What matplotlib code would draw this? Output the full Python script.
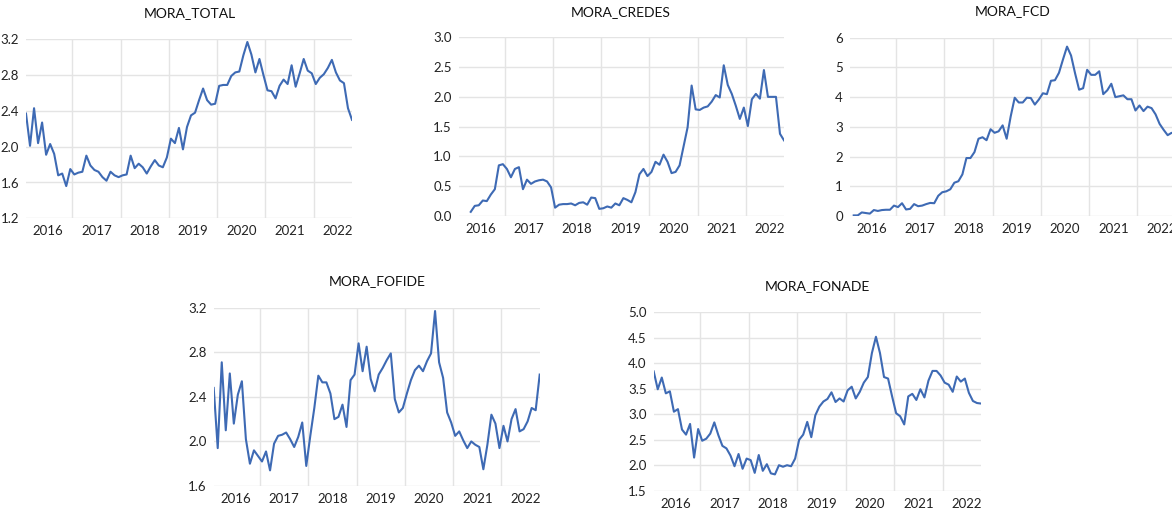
import matplotlib
matplotlib.use("Agg")
import matplotlib.pyplot as plt
import numpy as np

# monthly data, first month = Jan 2016 (index 0), last = Oct 2022 (index 81)
years = ["2016", "2017", "2018", "2019", "2020", "2021", "2022"]

mora_total = [
    2.37, 2.01, 2.43, 2.04, 2.27, 1.91, 2.03, 1.92, 1.68, 1.70, 1.56, 1.75,
    1.69, 1.71, 1.72, 1.90, 1.79, 1.74, 1.72, 1.66, 1.62, 1.72, 1.68, 1.66,
    1.68, 1.69, 1.90, 1.76, 1.81, 1.77, 1.70, 1.78, 1.85, 1.79, 1.77, 1.88,
    2.09, 2.04, 2.21, 1.97, 2.22, 2.35, 2.38, 2.52, 2.65, 2.52, 2.47, 2.48,
    2.68, 2.69, 2.69, 2.79, 2.83, 2.84, 3.02, 3.17, 3.03, 2.83, 2.98, 2.80,
    2.63, 2.62, 2.54, 2.68, 2.75, 2.70, 2.91, 2.67, 2.82, 2.98, 2.85, 2.82,
    2.70, 2.77, 2.81, 2.88, 2.97, 2.83, 2.74, 2.71, 2.43, 2.30,
]

credes_start = 3  # Apr 2016
mora_credes = [
    0.07, 0.17, 0.18, 0.26, 0.25, 0.36, 0.45, 0.85, 0.87, 0.79, 0.65, 0.79,
    0.82, 0.45, 0.61, 0.54, 0.58, 0.60, 0.61, 0.58, 0.48, 0.14, 0.19, 0.20,
    0.20, 0.21, 0.18, 0.22, 0.23, 0.19, 0.31, 0.30, 0.12, 0.13, 0.16, 0.14,
    0.21, 0.18, 0.30, 0.27, 0.23, 0.40, 0.70, 0.79, 0.67, 0.74, 0.91, 0.86,
    1.03, 0.91, 0.72, 0.74, 0.85, 1.17, 1.49, 2.19, 1.79, 1.78, 1.82, 1.84,
    1.92, 2.03, 1.99, 2.53, 2.20, 2.05, 1.85, 1.63, 1.82, 1.51, 1.96, 2.05,
    1.97, 2.45, 2.00, 2.00, 2.00, 1.38, 1.27,
]

fcd_start = 1  # Feb 2016
mora_fcd = [
    0.02, 0.02, 0.12, 0.10, 0.08, 0.20, 0.17, 0.20, 0.21, 0.21, 0.35, 0.30,
    0.43, 0.22, 0.24, 0.40, 0.33, 0.35, 0.40, 0.44, 0.43, 0.68, 0.80, 0.83,
    0.90, 1.12, 1.17, 1.40, 1.95, 1.95, 2.15, 2.60, 2.65, 2.55, 2.92, 2.80,
    2.85, 3.05, 2.60, 3.35, 3.98, 3.82, 3.82, 3.98, 3.97, 3.75, 3.92, 4.13,
    4.10, 4.55, 4.57, 4.82, 5.27, 5.70, 5.40, 4.80, 4.25, 4.30, 4.92, 4.75,
    4.75, 4.87, 4.10, 4.23, 4.45, 4.00, 4.03, 4.06, 3.93, 3.93, 3.55, 3.72,
    3.53, 3.68, 3.63, 3.42, 3.10, 2.90, 2.72, 2.80, 2.75,
]

mora_fofide = [
    2.48, 1.94, 2.71, 2.10, 2.61, 2.16, 2.42, 2.54, 2.02, 1.80, 1.92, 1.87,
    1.82, 1.91, 1.74, 1.98, 2.05, 2.06, 2.08, 2.02, 1.95, 2.04, 2.17, 1.78,
    2.05, 2.30, 2.59, 2.53, 2.53, 2.43, 2.20, 2.22, 2.33, 2.13, 2.55, 2.60,
    2.88, 2.63, 2.85, 2.56, 2.45, 2.60, 2.66, 2.73, 2.79, 2.38, 2.26, 2.30,
    2.43, 2.55, 2.64, 2.68, 2.63, 2.72, 2.79, 3.17, 2.71, 2.57, 2.26, 2.17,
    2.05, 2.09, 2.01, 1.94, 2.00, 1.97, 1.95, 1.75, 1.97, 2.24, 2.16, 1.94,
    2.14, 2.00, 2.20, 2.29, 2.09, 2.11, 2.18, 2.30, 2.28, 2.60,
]

mora_fonade = [
    3.84, 3.49, 3.72, 3.41, 3.45, 3.05, 3.10, 2.70, 2.60, 2.81, 2.15, 2.71,
    2.48, 2.52, 2.62, 2.84, 2.59, 2.38, 2.33, 2.19, 1.98, 2.22, 1.93, 2.13,
    2.10, 1.85, 2.20, 1.89, 2.02, 1.84, 1.82, 2.00, 1.97, 2.00, 1.98, 2.13,
    2.50, 2.60, 2.85, 2.55, 2.98, 3.15, 3.25, 3.30, 3.43, 3.24, 3.31, 3.25,
    3.47, 3.54, 3.31, 3.44, 3.62, 3.73, 4.20, 4.52, 4.20, 3.73, 3.70, 3.35,
    3.02, 2.96, 2.80, 3.35, 3.40, 3.28, 3.49, 3.33, 3.66, 3.85, 3.85, 3.76,
    3.62, 3.58, 3.44, 3.74, 3.64, 3.70, 3.42, 3.26, 3.22, 3.21,
]

W, H = 1172, 512
LINE = "#3e6ab4"
GRID = "#e4e4e4"
N_MONTHS = 82

plt.rcParams["font.family"] = ["Lato", "DejaVu Sans"]


def make_panel(fig, box, title, title_xy, start, values, ylim, yticks, yfmt):
    left, right, top, bottom = box
    ax = fig.add_axes([left / W, 1 - bottom / H, (right - left) / W, (bottom - top) / H])
    x = np.arange(start, start + len(values))
    ax.plot(x, values, color=LINE, linewidth=1.5, solid_joinstyle="round")
    ax.set_xlim(0, N_MONTHS - 1)
    ax.set_ylim(*ylim)

    # gridlines at year boundaries, year labels in the middle of each year
    ax.set_xticks(np.arange(11.5, N_MONTHS, 12))
    ax.set_xticklabels([])
    ax.set_xticks(np.arange(5.5, N_MONTHS + 6, 12), minor=True)
    ax.set_xticklabels(years, minor=True)
    ax.set_yticks(yticks)
    ax.set_yticklabels([yfmt.format(v) for v in yticks])

    ax.tick_params(axis="x", which="both", length=0, labelsize=9.5, pad=5, colors="#222222")
    ax.tick_params(axis="y", length=0, labelsize=9.5, pad=5, colors="#222222")
    ax.grid(True, which="major", color=GRID, linewidth=1.0)
    ax.set_axisbelow(True)
    for s in ax.spines.values():
        s.set_visible(False)

    fig.text(title_xy[0] / W, 1 - title_xy[1] / H, title, ha="center", va="center",
             fontsize=10, color="#111111")
    return ax


fig = plt.figure(figsize=(W / 100, H / 100), dpi=100)

make_panel(fig, (26, 352, 39.3, 218.3), "MORA_TOTAL", (190, 13), 0, mora_total,
           (1.2, 3.2), [1.2, 1.6, 2.0, 2.4, 2.8, 3.2], "{:.1f}")
make_panel(fig, (458.7, 784, 37.3, 216), "MORA_CREDES", (621, 12), credes_start, mora_credes,
           (0, 3.0), [0, 0.5, 1.0, 1.5, 2.0, 2.5, 3.0], "{:.1f}")
make_panel(fig, (849.7, 1175.7, 37.7, 216), "MORA_FCD", (1012.7, 11), fcd_start, mora_fcd,
           (0, 6), [0, 1, 2, 3, 4, 5, 6], "{:.0f}")
make_panel(fig, (213.7, 539.7, 307.7, 486), "MORA_FOFIDE", (376.7, 281), 0, mora_fofide,
           (1.6, 3.2), [1.6, 2.0, 2.4, 2.8, 3.2], "{:.1f}")
make_panel(fig, (653.7, 981, 312.3, 490.7), "MORA_FONADE", (817.3, 286), 0, mora_fonade,
           (1.5, 5.0), [1.5, 2.0, 2.5, 3.0, 3.5, 4.0, 4.5, 5.0], "{:.1f}")

fig.savefig("out.png", dpi=100, facecolor="white")
plt.close(fig)
